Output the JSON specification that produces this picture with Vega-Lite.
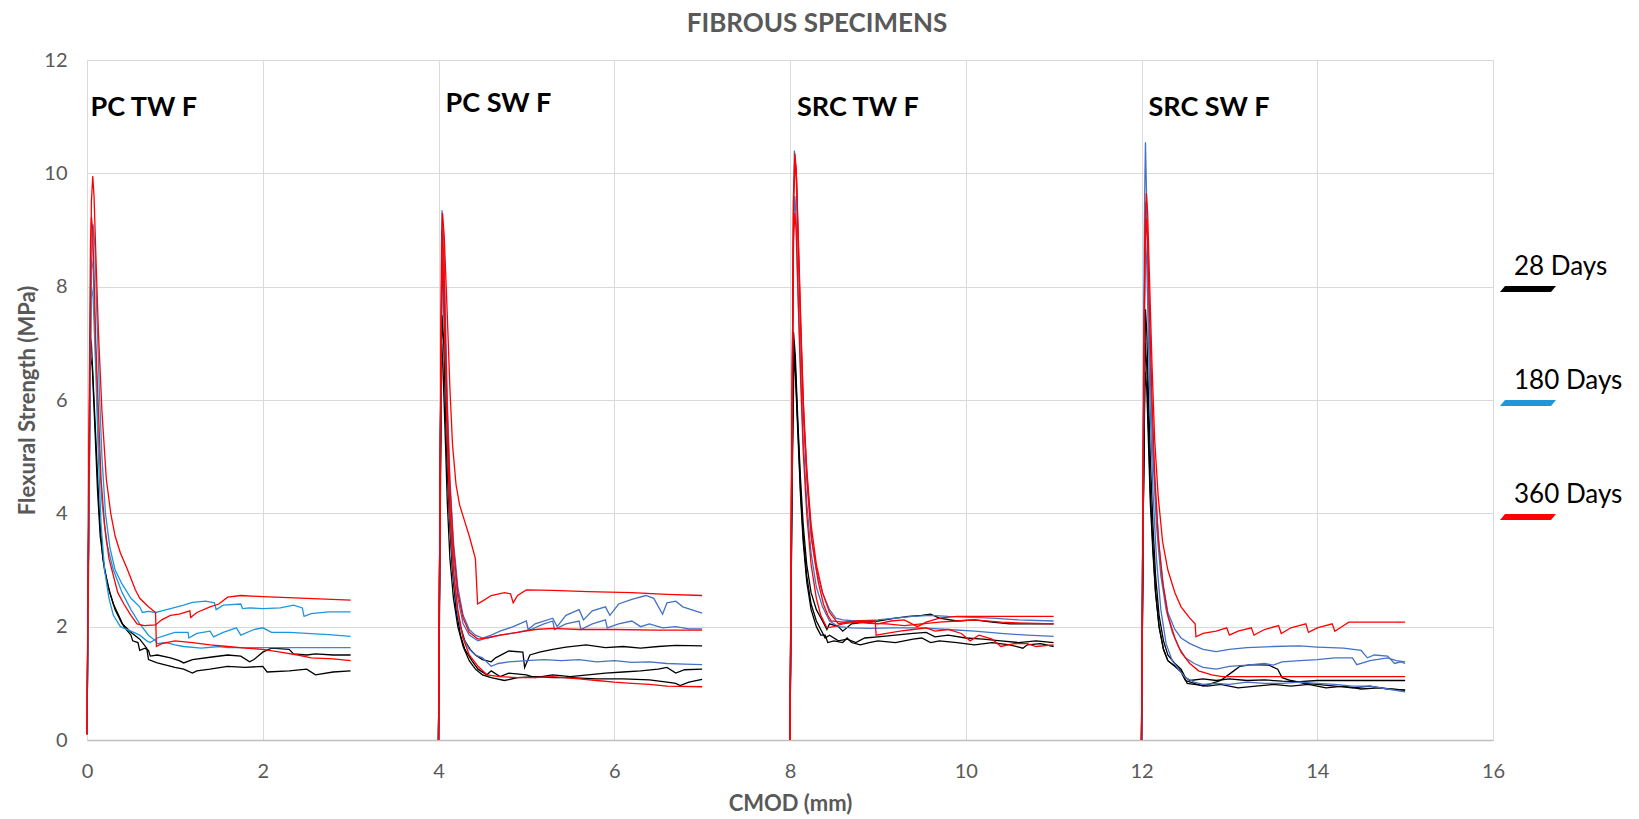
{
  "$schema": "https://vega.github.io/schema/vega-lite/v6.json",
  "autosize": {"type": "none"},
  "width": 1406,
  "height": 680,
  "padding": {"left": 87, "top": 60, "right": 146, "bottom": 79},
  "background": "white",
  "config": {"view": {"stroke": null}, "font": "Lato"},
  "title": {"text": "FIBROUS SPECIMENS", "font": "Lato", "fontSize": 26, "fontWeight": "bold", "color": "#595959", "anchor": "middle", "frame": "group", "dx": 27, "dy": 37, "offset": 29, "baseline": "alphabetic"},
  "datasets": {
    "labels": [
      {"label": "PC TW F", "x": 0.04, "y": 11.15},
      {"label": "PC SW F", "x": 4.08, "y": 11.23},
      {"label": "SRC TW F", "x": 8.08, "y": 11.15},
      {"label": "SRC SW F", "x": 12.08, "y": 11.15}
    ],
    "curves": [
      {"c":"1K1","g":"28 Days","x":0,"y":0.1},{"c":"1K1","g":"28 Days","x":0.02,"y":4},{"c":"1K1","g":"28 Days","x":0.035,"y":7.15},{"c":"1K1","g":"28 Days","x":0.05,"y":7.0},{"c":"1K1","g":"28 Days","x":0.08,"y":6.0},{"c":"1K1","g":"28 Days","x":0.11,"y":5.0},{"c":"1K1","g":"28 Days","x":0.14,"y":4.0},{"c":"1K1","g":"28 Days","x":0.18,"y":3.2},{"c":"1K1","g":"28 Days","x":0.24,"y":2.7},{"c":"1K1","g":"28 Days","x":0.3,"y":2.4},{"c":"1K1","g":"28 Days","x":0.36,"y":2.2},{"c":"1K1","g":"28 Days","x":0.42,"y":2.0},{"c":"1K1","g":"28 Days","x":0.5,"y":1.85},{"c":"1K1","g":"28 Days","x":0.52,"y":1.75},{"c":"1K1","g":"28 Days","x":0.58,"y":1.72},{"c":"1K1","g":"28 Days","x":0.6,"y":1.58},{"c":"1K1","g":"28 Days","x":0.66,"y":1.62},{"c":"1K1","g":"28 Days","x":0.7,"y":1.58},{"c":"1K1","g":"28 Days","x":0.72,"y":1.48},{"c":"1K1","g":"28 Days","x":0.8,"y":1.5},{"c":"1K1","g":"28 Days","x":0.95,"y":1.45},{"c":"1K1","g":"28 Days","x":1.05,"y":1.4},{"c":"1K1","g":"28 Days","x":1.1,"y":1.36},{"c":"1K1","g":"28 Days","x":1.2,"y":1.42},{"c":"1K1","g":"28 Days","x":1.4,"y":1.46},{"c":"1K1","g":"28 Days","x":1.6,"y":1.5},{"c":"1K1","g":"28 Days","x":1.75,"y":1.48},{"c":"1K1","g":"28 Days","x":1.85,"y":1.38},{"c":"1K1","g":"28 Days","x":1.9,"y":1.42},{"c":"1K1","g":"28 Days","x":2.0,"y":1.55},{"c":"1K1","g":"28 Days","x":2.1,"y":1.62},{"c":"1K1","g":"28 Days","x":2.3,"y":1.6},{"c":"1K1","g":"28 Days","x":2.35,"y":1.52},{"c":"1K1","g":"28 Days","x":2.5,"y":1.5},{"c":"1K1","g":"28 Days","x":2.6,"y":1.52},{"c":"1K1","g":"28 Days","x":2.8,"y":1.5},{"c":"1K1","g":"28 Days","x":3.0,"y":1.5},
      {"c":"1K2","g":"28 Days","x":0,"y":0.1},{"c":"1K2","g":"28 Days","x":0.02,"y":4},{"c":"1K2","g":"28 Days","x":0.04,"y":6.75},{"c":"1K2","g":"28 Days","x":0.06,"y":6.6},{"c":"1K2","g":"28 Days","x":0.09,"y":5.5},{"c":"1K2","g":"28 Days","x":0.12,"y":4.4},{"c":"1K2","g":"28 Days","x":0.15,"y":3.6},{"c":"1K2","g":"28 Days","x":0.2,"y":3.0},{"c":"1K2","g":"28 Days","x":0.26,"y":2.6},{"c":"1K2","g":"28 Days","x":0.32,"y":2.3},{"c":"1K2","g":"28 Days","x":0.4,"y":2.05},{"c":"1K2","g":"28 Days","x":0.5,"y":1.9},{"c":"1K2","g":"28 Days","x":0.6,"y":1.78},{"c":"1K2","g":"28 Days","x":0.68,"y":1.62},{"c":"1K2","g":"28 Days","x":0.7,"y":1.42},{"c":"1K2","g":"28 Days","x":0.8,"y":1.36},{"c":"1K2","g":"28 Days","x":0.9,"y":1.32},{"c":"1K2","g":"28 Days","x":1.0,"y":1.28},{"c":"1K2","g":"28 Days","x":1.1,"y":1.25},{"c":"1K2","g":"28 Days","x":1.2,"y":1.18},{"c":"1K2","g":"28 Days","x":1.25,"y":1.22},{"c":"1K2","g":"28 Days","x":1.4,"y":1.25},{"c":"1K2","g":"28 Days","x":1.6,"y":1.3},{"c":"1K2","g":"28 Days","x":1.8,"y":1.28},{"c":"1K2","g":"28 Days","x":2.0,"y":1.3},{"c":"1K2","g":"28 Days","x":2.05,"y":1.2},{"c":"1K2","g":"28 Days","x":2.3,"y":1.22},{"c":"1K2","g":"28 Days","x":2.5,"y":1.25},{"c":"1K2","g":"28 Days","x":2.6,"y":1.15},{"c":"1K2","g":"28 Days","x":2.8,"y":1.2},{"c":"1K2","g":"28 Days","x":3.0,"y":1.22},
      {"c":"2K1","g":"28 Days","x":4.0,"y":0},{"c":"2K1","g":"28 Days","x":4.02,"y":4},{"c":"2K1","g":"28 Days","x":4.04,"y":7.5},{"c":"2K1","g":"28 Days","x":4.06,"y":7.0},{"c":"2K1","g":"28 Days","x":4.08,"y":5.8},{"c":"2K1","g":"28 Days","x":4.1,"y":4.8},{"c":"2K1","g":"28 Days","x":4.13,"y":3.8},{"c":"2K1","g":"28 Days","x":4.16,"y":3.0},{"c":"2K1","g":"28 Days","x":4.2,"y":2.4},{"c":"2K1","g":"28 Days","x":4.25,"y":2.0},{"c":"2K1","g":"28 Days","x":4.3,"y":1.75},{"c":"2K1","g":"28 Days","x":4.36,"y":1.6},{"c":"2K1","g":"28 Days","x":4.42,"y":1.5},{"c":"2K1","g":"28 Days","x":4.5,"y":1.42},{"c":"2K1","g":"28 Days","x":4.6,"y":1.38},{"c":"2K1","g":"28 Days","x":4.65,"y":1.45},{"c":"2K1","g":"28 Days","x":4.8,"y":1.57},{"c":"2K1","g":"28 Days","x":4.96,"y":1.55},{"c":"2K1","g":"28 Days","x":4.98,"y":1.28},{"c":"2K1","g":"28 Days","x":5.04,"y":1.5},{"c":"2K1","g":"28 Days","x":5.15,"y":1.55},{"c":"2K1","g":"28 Days","x":5.3,"y":1.6},{"c":"2K1","g":"28 Days","x":5.45,"y":1.64},{"c":"2K1","g":"28 Days","x":5.68,"y":1.68},{"c":"2K1","g":"28 Days","x":5.9,"y":1.63},{"c":"2K1","g":"28 Days","x":6.1,"y":1.65},{"c":"2K1","g":"28 Days","x":6.3,"y":1.62},{"c":"2K1","g":"28 Days","x":6.5,"y":1.65},{"c":"2K1","g":"28 Days","x":6.7,"y":1.67},{"c":"2K1","g":"28 Days","x":7.0,"y":1.66},
      {"c":"2K2","g":"28 Days","x":4.0,"y":0},{"c":"2K2","g":"28 Days","x":4.02,"y":5},{"c":"2K2","g":"28 Days","x":4.04,"y":8.4},{"c":"2K2","g":"28 Days","x":4.06,"y":7.8},{"c":"2K2","g":"28 Days","x":4.08,"y":6.3},{"c":"2K2","g":"28 Days","x":4.1,"y":5.0},{"c":"2K2","g":"28 Days","x":4.13,"y":3.8},{"c":"2K2","g":"28 Days","x":4.16,"y":3.0},{"c":"2K2","g":"28 Days","x":4.2,"y":2.3},{"c":"2K2","g":"28 Days","x":4.25,"y":1.85},{"c":"2K2","g":"28 Days","x":4.3,"y":1.6},{"c":"2K2","g":"28 Days","x":4.38,"y":1.4},{"c":"2K2","g":"28 Days","x":4.45,"y":1.25},{"c":"2K2","g":"28 Days","x":4.55,"y":1.15},{"c":"2K2","g":"28 Days","x":4.6,"y":1.22},{"c":"2K2","g":"28 Days","x":4.7,"y":1.12},{"c":"2K2","g":"28 Days","x":4.8,"y":1.18},{"c":"2K2","g":"28 Days","x":5.0,"y":1.15},{"c":"2K2","g":"28 Days","x":5.1,"y":1.1},{"c":"2K2","g":"28 Days","x":5.3,"y":1.15},{"c":"2K2","g":"28 Days","x":5.5,"y":1.12},{"c":"2K2","g":"28 Days","x":5.7,"y":1.15},{"c":"2K2","g":"28 Days","x":5.9,"y":1.18},{"c":"2K2","g":"28 Days","x":6.1,"y":1.2},{"c":"2K2","g":"28 Days","x":6.3,"y":1.22},{"c":"2K2","g":"28 Days","x":6.5,"y":1.25},{"c":"2K2","g":"28 Days","x":6.6,"y":1.28},{"c":"2K2","g":"28 Days","x":6.7,"y":1.18},{"c":"2K2","g":"28 Days","x":6.8,"y":1.24},{"c":"2K2","g":"28 Days","x":7.0,"y":1.25},
      {"c":"2K3","g":"28 Days","x":4.0,"y":0},{"c":"2K3","g":"28 Days","x":4.02,"y":4.5},{"c":"2K3","g":"28 Days","x":4.035,"y":7.0},{"c":"2K3","g":"28 Days","x":4.05,"y":6.6},{"c":"2K3","g":"28 Days","x":4.08,"y":5.2},{"c":"2K3","g":"28 Days","x":4.1,"y":4.2},{"c":"2K3","g":"28 Days","x":4.13,"y":3.2},{"c":"2K3","g":"28 Days","x":4.17,"y":2.5},{"c":"2K3","g":"28 Days","x":4.22,"y":2.0},{"c":"2K3","g":"28 Days","x":4.28,"y":1.65},{"c":"2K3","g":"28 Days","x":4.35,"y":1.4},{"c":"2K3","g":"28 Days","x":4.42,"y":1.25},{"c":"2K3","g":"28 Days","x":4.5,"y":1.15},{"c":"2K3","g":"28 Days","x":4.6,"y":1.1},{"c":"2K3","g":"28 Days","x":4.75,"y":1.05},{"c":"2K3","g":"28 Days","x":4.9,"y":1.1},{"c":"2K3","g":"28 Days","x":5.1,"y":1.12},{"c":"2K3","g":"28 Days","x":5.3,"y":1.1},{"c":"2K3","g":"28 Days","x":5.5,"y":1.1},{"c":"2K3","g":"28 Days","x":5.8,"y":1.08},{"c":"2K3","g":"28 Days","x":6.1,"y":1.08},{"c":"2K3","g":"28 Days","x":6.4,"y":1.06},{"c":"2K3","g":"28 Days","x":6.6,"y":1.02},{"c":"2K3","g":"28 Days","x":6.7,"y":1.0},{"c":"2K3","g":"28 Days","x":6.75,"y":0.96},{"c":"2K3","g":"28 Days","x":6.85,"y":1.02},{"c":"2K3","g":"28 Days","x":7.0,"y":1.07},
      {"c":"3K1","g":"28 Days","x":8.0,"y":0},{"c":"3K1","g":"28 Days","x":8.02,"y":4},{"c":"3K1","g":"28 Days","x":8.04,"y":7.2},{"c":"3K1","g":"28 Days","x":8.06,"y":6.8},{"c":"3K1","g":"28 Days","x":8.09,"y":5.6},{"c":"3K1","g":"28 Days","x":8.12,"y":4.6},{"c":"3K1","g":"28 Days","x":8.15,"y":3.8},{"c":"3K1","g":"28 Days","x":8.19,"y":3.1},{"c":"3K1","g":"28 Days","x":8.24,"y":2.6},{"c":"3K1","g":"28 Days","x":8.3,"y":2.3},{"c":"3K1","g":"28 Days","x":8.37,"y":2.1},{"c":"3K1","g":"28 Days","x":8.42,"y":1.95},{"c":"3K1","g":"28 Days","x":8.45,"y":2.05},{"c":"3K1","g":"28 Days","x":8.55,"y":2.0},{"c":"3K1","g":"28 Days","x":8.6,"y":1.92},{"c":"3K1","g":"28 Days","x":8.7,"y":2.05},{"c":"3K1","g":"28 Days","x":8.85,"y":2.08},{"c":"3K1","g":"28 Days","x":9.0,"y":2.1},{"c":"3K1","g":"28 Days","x":9.2,"y":2.15},{"c":"3K1","g":"28 Days","x":9.35,"y":2.18},{"c":"3K1","g":"28 Days","x":9.5,"y":2.2},{"c":"3K1","g":"28 Days","x":9.6,"y":2.22},{"c":"3K1","g":"28 Days","x":9.7,"y":2.15},{"c":"3K1","g":"28 Days","x":9.9,"y":2.1},{"c":"3K1","g":"28 Days","x":10.1,"y":2.12},{"c":"3K1","g":"28 Days","x":10.3,"y":2.08},{"c":"3K1","g":"28 Days","x":10.5,"y":2.05},{"c":"3K1","g":"28 Days","x":10.7,"y":2.05},{"c":"3K1","g":"28 Days","x":11.0,"y":2.05},
      {"c":"3K2","g":"28 Days","x":8.0,"y":0},{"c":"3K2","g":"28 Days","x":8.02,"y":4},{"c":"3K2","g":"28 Days","x":8.045,"y":6.75},{"c":"3K2","g":"28 Days","x":8.06,"y":6.5},{"c":"3K2","g":"28 Days","x":8.09,"y":5.4},{"c":"3K2","g":"28 Days","x":8.12,"y":4.3},{"c":"3K2","g":"28 Days","x":8.15,"y":3.5},{"c":"3K2","g":"28 Days","x":8.19,"y":2.8},{"c":"3K2","g":"28 Days","x":8.24,"y":2.3},{"c":"3K2","g":"28 Days","x":8.3,"y":2.0},{"c":"3K2","g":"28 Days","x":8.35,"y":1.85},{"c":"3K2","g":"28 Days","x":8.4,"y":1.85},{"c":"3K2","g":"28 Days","x":8.43,"y":1.72},{"c":"3K2","g":"28 Days","x":8.5,"y":1.75},{"c":"3K2","g":"28 Days","x":8.6,"y":1.72},{"c":"3K2","g":"28 Days","x":8.65,"y":1.8},{"c":"3K2","g":"28 Days","x":8.7,"y":1.72},{"c":"3K2","g":"28 Days","x":8.8,"y":1.68},{"c":"3K2","g":"28 Days","x":8.9,"y":1.72},{"c":"3K2","g":"28 Days","x":9.0,"y":1.75},{"c":"3K2","g":"28 Days","x":9.2,"y":1.72},{"c":"3K2","g":"28 Days","x":9.3,"y":1.75},{"c":"3K2","g":"28 Days","x":9.4,"y":1.78},{"c":"3K2","g":"28 Days","x":9.5,"y":1.8},{"c":"3K2","g":"28 Days","x":9.6,"y":1.72},{"c":"3K2","g":"28 Days","x":9.7,"y":1.75},{"c":"3K2","g":"28 Days","x":9.9,"y":1.72},{"c":"3K2","g":"28 Days","x":10.1,"y":1.68},{"c":"3K2","g":"28 Days","x":10.3,"y":1.72},{"c":"3K2","g":"28 Days","x":10.5,"y":1.68},{"c":"3K2","g":"28 Days","x":10.65,"y":1.62},{"c":"3K2","g":"28 Days","x":10.7,"y":1.68},{"c":"3K2","g":"28 Days","x":10.85,"y":1.7},{"c":"3K2","g":"28 Days","x":11.0,"y":1.65},
      {"c":"3K3","g":"28 Days","x":8.0,"y":0},{"c":"3K3","g":"28 Days","x":8.02,"y":4.2},{"c":"3K3","g":"28 Days","x":8.04,"y":7.0},{"c":"3K3","g":"28 Days","x":8.06,"y":6.6},{"c":"3K3","g":"28 Days","x":8.09,"y":5.5},{"c":"3K3","g":"28 Days","x":8.12,"y":4.4},{"c":"3K3","g":"28 Days","x":8.15,"y":3.6},{"c":"3K3","g":"28 Days","x":8.19,"y":2.9},{"c":"3K3","g":"28 Days","x":8.24,"y":2.4},{"c":"3K3","g":"28 Days","x":8.3,"y":2.1},{"c":"3K3","g":"28 Days","x":8.35,"y":1.95},{"c":"3K3","g":"28 Days","x":8.4,"y":1.8},{"c":"3K3","g":"28 Days","x":8.45,"y":1.85},{"c":"3K3","g":"28 Days","x":8.55,"y":1.75},{"c":"3K3","g":"28 Days","x":8.65,"y":1.78},{"c":"3K3","g":"28 Days","x":8.75,"y":1.72},{"c":"3K3","g":"28 Days","x":8.85,"y":1.8},{"c":"3K3","g":"28 Days","x":9.0,"y":1.82},{"c":"3K3","g":"28 Days","x":9.2,"y":1.85},{"c":"3K3","g":"28 Days","x":9.4,"y":1.88},{"c":"3K3","g":"28 Days","x":9.55,"y":1.9},{"c":"3K3","g":"28 Days","x":9.65,"y":1.82},{"c":"3K3","g":"28 Days","x":9.8,"y":1.85},{"c":"3K3","g":"28 Days","x":10.0,"y":1.8},{"c":"3K3","g":"28 Days","x":10.2,"y":1.78},{"c":"3K3","g":"28 Days","x":10.4,"y":1.75},{"c":"3K3","g":"28 Days","x":10.6,"y":1.72},{"c":"3K3","g":"28 Days","x":10.8,"y":1.75},{"c":"3K3","g":"28 Days","x":11.0,"y":1.72},
      {"c":"4K1","g":"28 Days","x":12.0,"y":0},{"c":"4K1","g":"28 Days","x":12.02,"y":4},{"c":"4K1","g":"28 Days","x":12.045,"y":7.6},{"c":"4K1","g":"28 Days","x":12.06,"y":7.2},{"c":"4K1","g":"28 Days","x":12.08,"y":6.0},{"c":"4K1","g":"28 Days","x":12.1,"y":5.0},{"c":"4K1","g":"28 Days","x":12.13,"y":3.8},{"c":"4K1","g":"28 Days","x":12.16,"y":2.9},{"c":"4K1","g":"28 Days","x":12.2,"y":2.2},{"c":"4K1","g":"28 Days","x":12.25,"y":1.75},{"c":"4K1","g":"28 Days","x":12.3,"y":1.5},{"c":"4K1","g":"28 Days","x":12.38,"y":1.35},{"c":"4K1","g":"28 Days","x":12.45,"y":1.25},{"c":"4K1","g":"28 Days","x":12.5,"y":1.1},{"c":"4K1","g":"28 Days","x":12.55,"y":1.05},{"c":"4K1","g":"28 Days","x":12.7,"y":1.08},{"c":"4K1","g":"28 Days","x":12.85,"y":1.05},{"c":"4K1","g":"28 Days","x":13.0,"y":1.08},{"c":"4K1","g":"28 Days","x":13.2,"y":1.05},{"c":"4K1","g":"28 Days","x":13.4,"y":1.06},{"c":"4K1","g":"28 Days","x":13.6,"y":1.04},{"c":"4K1","g":"28 Days","x":13.8,"y":1.03},{"c":"4K1","g":"28 Days","x":14.0,"y":1.05},{"c":"4K1","g":"28 Days","x":14.3,"y":1.05},{"c":"4K1","g":"28 Days","x":14.6,"y":1.05},{"c":"4K1","g":"28 Days","x":15.0,"y":1.05},
      {"c":"4K2","g":"28 Days","x":12.0,"y":0},{"c":"4K2","g":"28 Days","x":12.02,"y":4},{"c":"4K2","g":"28 Days","x":12.04,"y":7.0},{"c":"4K2","g":"28 Days","x":12.06,"y":6.6},{"c":"4K2","g":"28 Days","x":12.08,"y":5.5},{"c":"4K2","g":"28 Days","x":12.1,"y":4.4},{"c":"4K2","g":"28 Days","x":12.13,"y":3.4},{"c":"4K2","g":"28 Days","x":12.16,"y":2.6},{"c":"4K2","g":"28 Days","x":12.2,"y":2.0},{"c":"4K2","g":"28 Days","x":12.25,"y":1.6},{"c":"4K2","g":"28 Days","x":12.3,"y":1.4},{"c":"4K2","g":"28 Days","x":12.38,"y":1.3},{"c":"4K2","g":"28 Days","x":12.45,"y":1.2},{"c":"4K2","g":"28 Days","x":12.5,"y":1.05},{"c":"4K2","g":"28 Days","x":12.6,"y":1.0},{"c":"4K2","g":"28 Days","x":12.7,"y":0.95},{"c":"4K2","g":"28 Days","x":12.8,"y":1.0},{"c":"4K2","g":"28 Days","x":12.9,"y":1.05},{"c":"4K2","g":"28 Days","x":13.05,"y":1.22},{"c":"4K2","g":"28 Days","x":13.12,"y":1.3},{"c":"4K2","g":"28 Days","x":13.25,"y":1.33},{"c":"4K2","g":"28 Days","x":13.45,"y":1.32},{"c":"4K2","g":"28 Days","x":13.55,"y":1.25},{"c":"4K2","g":"28 Days","x":13.6,"y":1.1},{"c":"4K2","g":"28 Days","x":13.7,"y":1.05},{"c":"4K2","g":"28 Days","x":13.85,"y":1.0},{"c":"4K2","g":"28 Days","x":14.0,"y":0.98},{"c":"4K2","g":"28 Days","x":14.2,"y":0.95},{"c":"4K2","g":"28 Days","x":14.4,"y":0.92},{"c":"4K2","g":"28 Days","x":14.6,"y":0.95},{"c":"4K2","g":"28 Days","x":14.8,"y":0.9},{"c":"4K2","g":"28 Days","x":15.0,"y":0.88},
      {"c":"4K3","g":"28 Days","x":12.0,"y":0},{"c":"4K3","g":"28 Days","x":12.02,"y":4},{"c":"4K3","g":"28 Days","x":12.04,"y":6.5},{"c":"4K3","g":"28 Days","x":12.06,"y":6.2},{"c":"4K3","g":"28 Days","x":12.08,"y":5.2},{"c":"4K3","g":"28 Days","x":12.1,"y":4.2},{"c":"4K3","g":"28 Days","x":12.13,"y":3.3},{"c":"4K3","g":"28 Days","x":12.16,"y":2.6},{"c":"4K3","g":"28 Days","x":12.2,"y":2.0},{"c":"4K3","g":"28 Days","x":12.25,"y":1.6},{"c":"4K3","g":"28 Days","x":12.3,"y":1.4},{"c":"4K3","g":"28 Days","x":12.38,"y":1.3},{"c":"4K3","g":"28 Days","x":12.45,"y":1.22},{"c":"4K3","g":"28 Days","x":12.52,"y":1.0},{"c":"4K3","g":"28 Days","x":12.6,"y":0.98},{"c":"4K3","g":"28 Days","x":12.75,"y":0.95},{"c":"4K3","g":"28 Days","x":12.9,"y":0.98},{"c":"4K3","g":"28 Days","x":13.1,"y":0.92},{"c":"4K3","g":"28 Days","x":13.3,"y":0.95},{"c":"4K3","g":"28 Days","x":13.5,"y":0.98},{"c":"4K3","g":"28 Days","x":13.7,"y":0.95},{"c":"4K3","g":"28 Days","x":13.9,"y":0.98},{"c":"4K3","g":"28 Days","x":14.1,"y":0.92},{"c":"4K3","g":"28 Days","x":14.3,"y":0.95},{"c":"4K3","g":"28 Days","x":14.5,"y":0.9},{"c":"4K3","g":"28 Days","x":14.7,"y":0.92},{"c":"4K3","g":"28 Days","x":15.0,"y":0.88},
      {"c":"1B1","g":"180 Days","x":0,"y":0.1},{"c":"1B1","g":"180 Days","x":0.03,"y":5},{"c":"1B1","g":"180 Days","x":0.05,"y":8.3},{"c":"1B1","g":"180 Days","x":0.07,"y":9.1},{"c":"1B1","g":"180 Days","x":0.09,"y":8.7},{"c":"1B1","g":"180 Days","x":0.11,"y":7.6},{"c":"1B1","g":"180 Days","x":0.14,"y":6.2},{"c":"1B1","g":"180 Days","x":0.17,"y":5.0},{"c":"1B1","g":"180 Days","x":0.21,"y":4.0},{"c":"1B1","g":"180 Days","x":0.26,"y":3.4},{"c":"1B1","g":"180 Days","x":0.32,"y":3.0},{"c":"1B1","g":"180 Days","x":0.4,"y":2.75},{"c":"1B1","g":"180 Days","x":0.5,"y":2.5},{"c":"1B1","g":"180 Days","x":0.6,"y":2.35},{"c":"1B1","g":"180 Days","x":0.63,"y":2.25},{"c":"1B1","g":"180 Days","x":0.7,"y":2.27},{"c":"1B1","g":"180 Days","x":0.78,"y":2.25},{"c":"1B1","g":"180 Days","x":0.85,"y":2.28},{"c":"1B1","g":"180 Days","x":0.95,"y":2.32},{"c":"1B1","g":"180 Days","x":1.1,"y":2.38},{"c":"1B1","g":"180 Days","x":1.2,"y":2.43},{"c":"1B1","g":"180 Days","x":1.35,"y":2.45},{"c":"1B1","g":"180 Days","x":1.45,"y":2.42},{"c":"1B1","g":"180 Days","x":1.47,"y":2.3},{"c":"1B1","g":"180 Days","x":1.55,"y":2.38},{"c":"1B1","g":"180 Days","x":1.75,"y":2.4},{"c":"1B1","g":"180 Days","x":1.77,"y":2.32},{"c":"1B1","g":"180 Days","x":1.85,"y":2.33},{"c":"1B1","g":"180 Days","x":2.0,"y":2.32},{"c":"1B1","g":"180 Days","x":2.2,"y":2.33},{"c":"1B1","g":"180 Days","x":2.35,"y":2.38},{"c":"1B1","g":"180 Days","x":2.45,"y":2.33},{"c":"1B1","g":"180 Days","x":2.47,"y":2.18},{"c":"1B1","g":"180 Days","x":2.55,"y":2.23},{"c":"1B1","g":"180 Days","x":2.75,"y":2.26},{"c":"1B1","g":"180 Days","x":3.0,"y":2.26},
      {"c":"1B2","g":"180 Days","x":0,"y":0.1},{"c":"1B2","g":"180 Days","x":0.03,"y":5.5},{"c":"1B2","g":"180 Days","x":0.05,"y":8.0},{"c":"1B2","g":"180 Days","x":0.07,"y":7.8},{"c":"1B2","g":"180 Days","x":0.1,"y":6.5},{"c":"1B2","g":"180 Days","x":0.13,"y":5.0},{"c":"1B2","g":"180 Days","x":0.16,"y":3.8},{"c":"1B2","g":"180 Days","x":0.2,"y":3.0},{"c":"1B2","g":"180 Days","x":0.25,"y":2.5},{"c":"1B2","g":"180 Days","x":0.3,"y":2.2},{"c":"1B2","g":"180 Days","x":0.38,"y":2.0},{"c":"1B2","g":"180 Days","x":0.5,"y":1.92},{"c":"1B2","g":"180 Days","x":0.6,"y":1.85},{"c":"1B2","g":"180 Days","x":0.68,"y":1.75},{"c":"1B2","g":"180 Days","x":0.72,"y":1.72},{"c":"1B2","g":"180 Days","x":0.8,"y":1.8},{"c":"1B2","g":"180 Days","x":0.9,"y":1.85},{"c":"1B2","g":"180 Days","x":1.0,"y":1.9},{"c":"1B2","g":"180 Days","x":1.15,"y":1.9},{"c":"1B2","g":"180 Days","x":1.16,"y":1.8},{"c":"1B2","g":"180 Days","x":1.25,"y":1.88},{"c":"1B2","g":"180 Days","x":1.4,"y":1.92},{"c":"1B2","g":"180 Days","x":1.44,"y":1.82},{"c":"1B2","g":"180 Days","x":1.55,"y":1.9},{"c":"1B2","g":"180 Days","x":1.7,"y":1.98},{"c":"1B2","g":"180 Days","x":1.75,"y":1.85},{"c":"1B2","g":"180 Days","x":1.9,"y":1.95},{"c":"1B2","g":"180 Days","x":2.0,"y":1.98},{"c":"1B2","g":"180 Days","x":2.1,"y":1.9},{"c":"1B2","g":"180 Days","x":2.3,"y":1.9},{"c":"1B2","g":"180 Days","x":2.5,"y":1.88},{"c":"1B2","g":"180 Days","x":2.75,"y":1.86},{"c":"1B2","g":"180 Days","x":3.0,"y":1.83},
      {"c":"1B3","g":"180 Days","x":0,"y":0.1},{"c":"1B3","g":"180 Days","x":0.03,"y":6},{"c":"1B3","g":"180 Days","x":0.05,"y":8.5},{"c":"1B3","g":"180 Days","x":0.07,"y":8.3},{"c":"1B3","g":"180 Days","x":0.1,"y":6.8},{"c":"1B3","g":"180 Days","x":0.13,"y":5.3},{"c":"1B3","g":"180 Days","x":0.17,"y":4.2},{"c":"1B3","g":"180 Days","x":0.22,"y":3.5},{"c":"1B3","g":"180 Days","x":0.3,"y":3.0},{"c":"1B3","g":"180 Days","x":0.4,"y":2.6},{"c":"1B3","g":"180 Days","x":0.5,"y":2.3},{"c":"1B3","g":"180 Days","x":0.6,"y":2.05},{"c":"1B3","g":"180 Days","x":0.7,"y":1.85},{"c":"1B3","g":"180 Days","x":0.78,"y":1.75},{"c":"1B3","g":"180 Days","x":0.8,"y":1.7},{"c":"1B3","g":"180 Days","x":0.9,"y":1.72},{"c":"1B3","g":"180 Days","x":1.0,"y":1.68},{"c":"1B3","g":"180 Days","x":1.1,"y":1.65},{"c":"1B3","g":"180 Days","x":1.3,"y":1.62},{"c":"1B3","g":"180 Days","x":1.5,"y":1.65},{"c":"1B3","g":"180 Days","x":1.6,"y":1.63},{"c":"1B3","g":"180 Days","x":2.0,"y":1.63},{"c":"1B3","g":"180 Days","x":2.5,"y":1.63},{"c":"1B3","g":"180 Days","x":3.0,"y":1.63},
      {"c":"2B1","g":"180 Days (b)","x":4.0,"y":0},{"c":"2B1","g":"180 Days (b)","x":4.02,"y":5},{"c":"2B1","g":"180 Days (b)","x":4.035,"y":8.5},{"c":"2B1","g":"180 Days (b)","x":4.04,"y":9.35},{"c":"2B1","g":"180 Days (b)","x":4.06,"y":8.8},{"c":"2B1","g":"180 Days (b)","x":4.08,"y":7.4},{"c":"2B1","g":"180 Days (b)","x":4.1,"y":6.0},{"c":"2B1","g":"180 Days (b)","x":4.13,"y":4.6},{"c":"2B1","g":"180 Days (b)","x":4.17,"y":3.5},{"c":"2B1","g":"180 Days (b)","x":4.22,"y":2.7},{"c":"2B1","g":"180 Days (b)","x":4.28,"y":2.2},{"c":"2B1","g":"180 Days (b)","x":4.35,"y":1.95},{"c":"2B1","g":"180 Days (b)","x":4.42,"y":1.85},{"c":"2B1","g":"180 Days (b)","x":4.5,"y":1.8},{"c":"2B1","g":"180 Days (b)","x":4.6,"y":1.85},{"c":"2B1","g":"180 Days (b)","x":4.7,"y":1.92},{"c":"2B1","g":"180 Days (b)","x":4.85,"y":2.0},{"c":"2B1","g":"180 Days (b)","x":5.0,"y":2.1},{"c":"2B1","g":"180 Days (b)","x":5.02,"y":1.95},{"c":"2B1","g":"180 Days (b)","x":5.1,"y":2.05},{"c":"2B1","g":"180 Days (b)","x":5.3,"y":2.15},{"c":"2B1","g":"180 Days (b)","x":5.35,"y":2.0},{"c":"2B1","g":"180 Days (b)","x":5.45,"y":2.2},{"c":"2B1","g":"180 Days (b)","x":5.6,"y":2.3},{"c":"2B1","g":"180 Days (b)","x":5.65,"y":2.12},{"c":"2B1","g":"180 Days (b)","x":5.75,"y":2.28},{"c":"2B1","g":"180 Days (b)","x":5.9,"y":2.35},{"c":"2B1","g":"180 Days (b)","x":5.95,"y":2.2},{"c":"2B1","g":"180 Days (b)","x":6.05,"y":2.4},{"c":"2B1","g":"180 Days (b)","x":6.2,"y":2.48},{"c":"2B1","g":"180 Days (b)","x":6.36,"y":2.55},{"c":"2B1","g":"180 Days (b)","x":6.45,"y":2.5},{"c":"2B1","g":"180 Days (b)","x":6.55,"y":2.22},{"c":"2B1","g":"180 Days (b)","x":6.6,"y":2.42},{"c":"2B1","g":"180 Days (b)","x":6.7,"y":2.45},{"c":"2B1","g":"180 Days (b)","x":6.78,"y":2.35},{"c":"2B1","g":"180 Days (b)","x":7.0,"y":2.24},
      {"c":"2B2","g":"180 Days (b)","x":4.0,"y":0},{"c":"2B2","g":"180 Days (b)","x":4.02,"y":5},{"c":"2B2","g":"180 Days (b)","x":4.04,"y":8.8},{"c":"2B2","g":"180 Days (b)","x":4.06,"y":8.2},{"c":"2B2","g":"180 Days (b)","x":4.08,"y":6.8},{"c":"2B2","g":"180 Days (b)","x":4.1,"y":5.5},{"c":"2B2","g":"180 Days (b)","x":4.13,"y":4.2},{"c":"2B2","g":"180 Days (b)","x":4.17,"y":3.2},{"c":"2B2","g":"180 Days (b)","x":4.22,"y":2.5},{"c":"2B2","g":"180 Days (b)","x":4.28,"y":2.05},{"c":"2B2","g":"180 Days (b)","x":4.35,"y":1.85},{"c":"2B2","g":"180 Days (b)","x":4.45,"y":1.75},{"c":"2B2","g":"180 Days (b)","x":4.55,"y":1.8},{"c":"2B2","g":"180 Days (b)","x":4.7,"y":1.85},{"c":"2B2","g":"180 Days (b)","x":4.9,"y":1.9},{"c":"2B2","g":"180 Days (b)","x":5.05,"y":1.95},{"c":"2B2","g":"180 Days (b)","x":5.2,"y":2.05},{"c":"2B2","g":"180 Days (b)","x":5.3,"y":2.1},{"c":"2B2","g":"180 Days (b)","x":5.32,"y":1.95},{"c":"2B2","g":"180 Days (b)","x":5.45,"y":2.05},{"c":"2B2","g":"180 Days (b)","x":5.6,"y":2.1},{"c":"2B2","g":"180 Days (b)","x":5.62,"y":1.95},{"c":"2B2","g":"180 Days (b)","x":5.75,"y":2.05},{"c":"2B2","g":"180 Days (b)","x":5.9,"y":2.12},{"c":"2B2","g":"180 Days (b)","x":5.92,"y":1.98},{"c":"2B2","g":"180 Days (b)","x":6.05,"y":2.05},{"c":"2B2","g":"180 Days (b)","x":6.2,"y":2.1},{"c":"2B2","g":"180 Days (b)","x":6.3,"y":2.0},{"c":"2B2","g":"180 Days (b)","x":6.4,"y":2.05},{"c":"2B2","g":"180 Days (b)","x":6.55,"y":1.98},{"c":"2B2","g":"180 Days (b)","x":6.7,"y":2.0},{"c":"2B2","g":"180 Days (b)","x":6.85,"y":1.96},{"c":"2B2","g":"180 Days (b)","x":7.0,"y":1.96},
      {"c":"2B3","g":"180 Days (b)","x":4.0,"y":0},{"c":"2B3","g":"180 Days (b)","x":4.02,"y":5},{"c":"2B3","g":"180 Days (b)","x":4.04,"y":8.6},{"c":"2B3","g":"180 Days (b)","x":4.06,"y":8.0},{"c":"2B3","g":"180 Days (b)","x":4.08,"y":6.5},{"c":"2B3","g":"180 Days (b)","x":4.1,"y":5.2},{"c":"2B3","g":"180 Days (b)","x":4.13,"y":3.9},{"c":"2B3","g":"180 Days (b)","x":4.17,"y":2.9},{"c":"2B3","g":"180 Days (b)","x":4.22,"y":2.2},{"c":"2B3","g":"180 Days (b)","x":4.28,"y":1.8},{"c":"2B3","g":"180 Days (b)","x":4.35,"y":1.6},{"c":"2B3","g":"180 Days (b)","x":4.42,"y":1.5},{"c":"2B3","g":"180 Days (b)","x":4.5,"y":1.45},{"c":"2B3","g":"180 Days (b)","x":4.6,"y":1.3},{"c":"2B3","g":"180 Days (b)","x":4.68,"y":1.35},{"c":"2B3","g":"180 Days (b)","x":4.8,"y":1.38},{"c":"2B3","g":"180 Days (b)","x":5.0,"y":1.4},{"c":"2B3","g":"180 Days (b)","x":5.2,"y":1.42},{"c":"2B3","g":"180 Days (b)","x":5.4,"y":1.4},{"c":"2B3","g":"180 Days (b)","x":5.6,"y":1.42},{"c":"2B3","g":"180 Days (b)","x":5.8,"y":1.38},{"c":"2B3","g":"180 Days (b)","x":6.0,"y":1.4},{"c":"2B3","g":"180 Days (b)","x":6.2,"y":1.37},{"c":"2B3","g":"180 Days (b)","x":6.4,"y":1.38},{"c":"2B3","g":"180 Days (b)","x":6.6,"y":1.35},{"c":"2B3","g":"180 Days (b)","x":6.8,"y":1.34},{"c":"2B3","g":"180 Days (b)","x":7.0,"y":1.33},
      {"c":"3B1","g":"180 Days (b)","x":8.0,"y":0},{"c":"3B1","g":"180 Days (b)","x":8.02,"y":5},{"c":"3B1","g":"180 Days (b)","x":8.04,"y":9.5},{"c":"3B1","g":"180 Days (b)","x":8.05,"y":10.4},{"c":"3B1","g":"180 Days (b)","x":8.07,"y":10.0},{"c":"3B1","g":"180 Days (b)","x":8.09,"y":8.8},{"c":"3B1","g":"180 Days (b)","x":8.12,"y":7.2},{"c":"3B1","g":"180 Days (b)","x":8.15,"y":5.8},{"c":"3B1","g":"180 Days (b)","x":8.19,"y":4.6},{"c":"3B1","g":"180 Days (b)","x":8.24,"y":3.6},{"c":"3B1","g":"180 Days (b)","x":8.3,"y":3.0},{"c":"3B1","g":"180 Days (b)","x":8.37,"y":2.6},{"c":"3B1","g":"180 Days (b)","x":8.45,"y":2.3},{"c":"3B1","g":"180 Days (b)","x":8.52,"y":2.15},{"c":"3B1","g":"180 Days (b)","x":8.6,"y":2.12},{"c":"3B1","g":"180 Days (b)","x":8.75,"y":2.1},{"c":"3B1","g":"180 Days (b)","x":9.0,"y":2.12},{"c":"3B1","g":"180 Days (b)","x":9.2,"y":2.15},{"c":"3B1","g":"180 Days (b)","x":9.4,"y":2.18},{"c":"3B1","g":"180 Days (b)","x":9.6,"y":2.2},{"c":"3B1","g":"180 Days (b)","x":9.8,"y":2.18},{"c":"3B1","g":"180 Days (b)","x":10.0,"y":2.17},{"c":"3B1","g":"180 Days (b)","x":10.3,"y":2.15},{"c":"3B1","g":"180 Days (b)","x":10.6,"y":2.12},{"c":"3B1","g":"180 Days (b)","x":11.0,"y":2.1},
      {"c":"3B2","g":"180 Days (b)","x":8.0,"y":0},{"c":"3B2","g":"180 Days (b)","x":8.02,"y":5},{"c":"3B2","g":"180 Days (b)","x":8.04,"y":9.0},{"c":"3B2","g":"180 Days (b)","x":8.055,"y":9.6},{"c":"3B2","g":"180 Days (b)","x":8.07,"y":9.2},{"c":"3B2","g":"180 Days (b)","x":8.09,"y":8.0},{"c":"3B2","g":"180 Days (b)","x":8.12,"y":6.6},{"c":"3B2","g":"180 Days (b)","x":8.15,"y":5.3},{"c":"3B2","g":"180 Days (b)","x":8.19,"y":4.2},{"c":"3B2","g":"180 Days (b)","x":8.24,"y":3.3},{"c":"3B2","g":"180 Days (b)","x":8.3,"y":2.7},{"c":"3B2","g":"180 Days (b)","x":8.37,"y":2.35},{"c":"3B2","g":"180 Days (b)","x":8.45,"y":2.1},{"c":"3B2","g":"180 Days (b)","x":8.55,"y":2.0},{"c":"3B2","g":"180 Days (b)","x":8.7,"y":1.98},{"c":"3B2","g":"180 Days (b)","x":8.9,"y":1.97},{"c":"3B2","g":"180 Days (b)","x":9.2,"y":1.98},{"c":"3B2","g":"180 Days (b)","x":9.5,"y":1.98},{"c":"3B2","g":"180 Days (b)","x":9.8,"y":1.95},{"c":"3B2","g":"180 Days (b)","x":10.1,"y":1.92},{"c":"3B2","g":"180 Days (b)","x":10.4,"y":1.88},{"c":"3B2","g":"180 Days (b)","x":10.7,"y":1.85},{"c":"3B2","g":"180 Days (b)","x":11.0,"y":1.83},
      {"c":"4B1","g":"180 Days (b)","x":12.0,"y":0},{"c":"4B1","g":"180 Days (b)","x":12.02,"y":6},{"c":"4B1","g":"180 Days (b)","x":12.035,"y":9.5},{"c":"4B1","g":"180 Days (b)","x":12.045,"y":10.55},{"c":"4B1","g":"180 Days (b)","x":12.055,"y":9.8},{"c":"4B1","g":"180 Days (b)","x":12.07,"y":8.6},{"c":"4B1","g":"180 Days (b)","x":12.09,"y":7.2},{"c":"4B1","g":"180 Days (b)","x":12.12,"y":5.6},{"c":"4B1","g":"180 Days (b)","x":12.16,"y":4.3},{"c":"4B1","g":"180 Days (b)","x":12.2,"y":3.4},{"c":"4B1","g":"180 Days (b)","x":12.25,"y":2.7},{"c":"4B1","g":"180 Days (b)","x":12.3,"y":2.25},{"c":"4B1","g":"180 Days (b)","x":12.38,"y":1.95},{"c":"4B1","g":"180 Days (b)","x":12.45,"y":1.8},{"c":"4B1","g":"180 Days (b)","x":12.55,"y":1.7},{"c":"4B1","g":"180 Days (b)","x":12.7,"y":1.6},{"c":"4B1","g":"180 Days (b)","x":12.85,"y":1.56},{"c":"4B1","g":"180 Days (b)","x":13.0,"y":1.6},{"c":"4B1","g":"180 Days (b)","x":13.2,"y":1.63},{"c":"4B1","g":"180 Days (b)","x":13.5,"y":1.65},{"c":"4B1","g":"180 Days (b)","x":13.8,"y":1.66},{"c":"4B1","g":"180 Days (b)","x":14.0,"y":1.64},{"c":"4B1","g":"180 Days (b)","x":14.3,"y":1.62},{"c":"4B1","g":"180 Days (b)","x":14.5,"y":1.58},{"c":"4B1","g":"180 Days (b)","x":14.57,"y":1.45},{"c":"4B1","g":"180 Days (b)","x":14.65,"y":1.5},{"c":"4B1","g":"180 Days (b)","x":14.8,"y":1.48},{"c":"4B1","g":"180 Days (b)","x":14.88,"y":1.35},{"c":"4B1","g":"180 Days (b)","x":14.95,"y":1.38},{"c":"4B1","g":"180 Days (b)","x":15.0,"y":1.35},
      {"c":"4B2","g":"180 Days (b)","x":12.0,"y":0},{"c":"4B2","g":"180 Days (b)","x":12.02,"y":5},{"c":"4B2","g":"180 Days (b)","x":12.04,"y":9.0},{"c":"4B2","g":"180 Days (b)","x":12.05,"y":9.5},{"c":"4B2","g":"180 Days (b)","x":12.065,"y":9.0},{"c":"4B2","g":"180 Days (b)","x":12.08,"y":7.8},{"c":"4B2","g":"180 Days (b)","x":12.1,"y":6.5},{"c":"4B2","g":"180 Days (b)","x":12.13,"y":5.0},{"c":"4B2","g":"180 Days (b)","x":12.17,"y":3.8},{"c":"4B2","g":"180 Days (b)","x":12.22,"y":2.9},{"c":"4B2","g":"180 Days (b)","x":12.28,"y":2.3},{"c":"4B2","g":"180 Days (b)","x":12.35,"y":1.9},{"c":"4B2","g":"180 Days (b)","x":12.42,"y":1.65},{"c":"4B2","g":"180 Days (b)","x":12.5,"y":1.45},{"c":"4B2","g":"180 Days (b)","x":12.6,"y":1.35},{"c":"4B2","g":"180 Days (b)","x":12.7,"y":1.28},{"c":"4B2","g":"180 Days (b)","x":12.85,"y":1.25},{"c":"4B2","g":"180 Days (b)","x":13.0,"y":1.3},{"c":"4B2","g":"180 Days (b)","x":13.2,"y":1.32},{"c":"4B2","g":"180 Days (b)","x":13.4,"y":1.35},{"c":"4B2","g":"180 Days (b)","x":13.5,"y":1.32},{"c":"4B2","g":"180 Days (b)","x":13.6,"y":1.38},{"c":"4B2","g":"180 Days (b)","x":13.8,"y":1.4},{"c":"4B2","g":"180 Days (b)","x":14.0,"y":1.42},{"c":"4B2","g":"180 Days (b)","x":14.2,"y":1.45},{"c":"4B2","g":"180 Days (b)","x":14.4,"y":1.45},{"c":"4B2","g":"180 Days (b)","x":14.45,"y":1.33},{"c":"4B2","g":"180 Days (b)","x":14.6,"y":1.4},{"c":"4B2","g":"180 Days (b)","x":14.8,"y":1.45},{"c":"4B2","g":"180 Days (b)","x":14.9,"y":1.4},{"c":"4B2","g":"180 Days (b)","x":15.0,"y":1.38},
      {"c":"4B3","g":"180 Days (b)","x":12.0,"y":0},{"c":"4B3","g":"180 Days (b)","x":12.02,"y":5},{"c":"4B3","g":"180 Days (b)","x":12.04,"y":9.0},{"c":"4B3","g":"180 Days (b)","x":12.06,"y":8.4},{"c":"4B3","g":"180 Days (b)","x":12.08,"y":7.0},{"c":"4B3","g":"180 Days (b)","x":12.1,"y":5.8},{"c":"4B3","g":"180 Days (b)","x":12.13,"y":4.4},{"c":"4B3","g":"180 Days (b)","x":12.17,"y":3.2},{"c":"4B3","g":"180 Days (b)","x":12.22,"y":2.3},{"c":"4B3","g":"180 Days (b)","x":12.28,"y":1.7},{"c":"4B3","g":"180 Days (b)","x":12.35,"y":1.4},{"c":"4B3","g":"180 Days (b)","x":12.42,"y":1.25},{"c":"4B3","g":"180 Days (b)","x":12.5,"y":1.1},{"c":"4B3","g":"180 Days (b)","x":12.6,"y":1.02},{"c":"4B3","g":"180 Days (b)","x":12.7,"y":0.98},{"c":"4B3","g":"180 Days (b)","x":12.85,"y":1.0},{"c":"4B3","g":"180 Days (b)","x":13.0,"y":0.98},{"c":"4B3","g":"180 Days (b)","x":13.2,"y":1.02},{"c":"4B3","g":"180 Days (b)","x":13.4,"y":1.0},{"c":"4B3","g":"180 Days (b)","x":13.6,"y":1.0},{"c":"4B3","g":"180 Days (b)","x":13.8,"y":1.02},{"c":"4B3","g":"180 Days (b)","x":14.0,"y":1.0},{"c":"4B3","g":"180 Days (b)","x":14.2,"y":0.98},{"c":"4B3","g":"180 Days (b)","x":14.4,"y":0.95},{"c":"4B3","g":"180 Days (b)","x":14.6,"y":0.95},{"c":"4B3","g":"180 Days (b)","x":14.8,"y":0.9},{"c":"4B3","g":"180 Days (b)","x":15.0,"y":0.85},
      {"c":"1R1","g":"360 Days","x":0,"y":0.1},{"c":"1R1","g":"360 Days","x":0.03,"y":6},{"c":"1R1","g":"360 Days","x":0.05,"y":9.5},{"c":"1R1","g":"360 Days","x":0.065,"y":9.95},{"c":"1R1","g":"360 Days","x":0.08,"y":9.6},{"c":"1R1","g":"360 Days","x":0.1,"y":8.6},{"c":"1R1","g":"360 Days","x":0.13,"y":7.2},{"c":"1R1","g":"360 Days","x":0.17,"y":5.8},{"c":"1R1","g":"360 Days","x":0.22,"y":4.6},{"c":"1R1","g":"360 Days","x":0.27,"y":4.0},{"c":"1R1","g":"360 Days","x":0.32,"y":3.6},{"c":"1R1","g":"360 Days","x":0.38,"y":3.3},{"c":"1R1","g":"360 Days","x":0.45,"y":3.05},{"c":"1R1","g":"360 Days","x":0.5,"y":2.85},{"c":"1R1","g":"360 Days","x":0.55,"y":2.65},{"c":"1R1","g":"360 Days","x":0.6,"y":2.5},{"c":"1R1","g":"360 Days","x":0.7,"y":2.35},{"c":"1R1","g":"360 Days","x":0.78,"y":2.25},{"c":"1R1","g":"360 Days","x":0.79,"y":1.65},{"c":"1R1","g":"360 Days","x":0.85,"y":1.7},{"c":"1R1","g":"360 Days","x":1.0,"y":1.75},{"c":"1R1","g":"360 Days","x":1.2,"y":1.72},{"c":"1R1","g":"360 Days","x":1.4,"y":1.68},{"c":"1R1","g":"360 Days","x":1.6,"y":1.65},{"c":"1R1","g":"360 Days","x":1.8,"y":1.62},{"c":"1R1","g":"360 Days","x":2.0,"y":1.6},{"c":"1R1","g":"360 Days","x":2.2,"y":1.55},{"c":"1R1","g":"360 Days","x":2.4,"y":1.5},{"c":"1R1","g":"360 Days","x":2.55,"y":1.45},{"c":"1R1","g":"360 Days","x":2.8,"y":1.43},{"c":"1R1","g":"360 Days","x":3.0,"y":1.4},
      {"c":"1R2","g":"360 Days","x":0,"y":0.1},{"c":"1R2","g":"360 Days","x":0.02,"y":5},{"c":"1R2","g":"360 Days","x":0.04,"y":8.8},{"c":"1R2","g":"360 Days","x":0.05,"y":9.23},{"c":"1R2","g":"360 Days","x":0.065,"y":9.0},{"c":"1R2","g":"360 Days","x":0.08,"y":8.2},{"c":"1R2","g":"360 Days","x":0.1,"y":7.0},{"c":"1R2","g":"360 Days","x":0.13,"y":5.8},{"c":"1R2","g":"360 Days","x":0.16,"y":4.6},{"c":"1R2","g":"360 Days","x":0.2,"y":3.8},{"c":"1R2","g":"360 Days","x":0.25,"y":3.2},{"c":"1R2","g":"360 Days","x":0.3,"y":2.9},{"c":"1R2","g":"360 Days","x":0.35,"y":2.6},{"c":"1R2","g":"360 Days","x":0.42,"y":2.4},{"c":"1R2","g":"360 Days","x":0.5,"y":2.2},{"c":"1R2","g":"360 Days","x":0.57,"y":2.05},{"c":"1R2","g":"360 Days","x":0.65,"y":2.02},{"c":"1R2","g":"360 Days","x":0.78,"y":2.03},{"c":"1R2","g":"360 Days","x":0.85,"y":2.12},{"c":"1R2","g":"360 Days","x":0.95,"y":2.2},{"c":"1R2","g":"360 Days","x":1.05,"y":2.22},{"c":"1R2","g":"360 Days","x":1.17,"y":2.28},{"c":"1R2","g":"360 Days","x":1.18,"y":2.16},{"c":"1R2","g":"360 Days","x":1.25,"y":2.25},{"c":"1R2","g":"360 Days","x":1.4,"y":2.35},{"c":"1R2","g":"360 Days","x":1.5,"y":2.4},{"c":"1R2","g":"360 Days","x":1.6,"y":2.52},{"c":"1R2","g":"360 Days","x":1.75,"y":2.55},{"c":"1R2","g":"360 Days","x":2.0,"y":2.53},{"c":"1R2","g":"360 Days","x":2.5,"y":2.5},{"c":"1R2","g":"360 Days","x":3.0,"y":2.47},
      {"c":"2R1","g":"360 Days","x":4.0,"y":0},{"c":"2R1","g":"360 Days","x":4.02,"y":5},{"c":"2R1","g":"360 Days","x":4.035,"y":8.8},{"c":"2R1","g":"360 Days","x":4.045,"y":9.3},{"c":"2R1","g":"360 Days","x":4.065,"y":8.9},{"c":"2R1","g":"360 Days","x":4.1,"y":7.5},{"c":"2R1","g":"360 Days","x":4.13,"y":6.2},{"c":"2R1","g":"360 Days","x":4.16,"y":5.2},{"c":"2R1","g":"360 Days","x":4.2,"y":4.5},{"c":"2R1","g":"360 Days","x":4.24,"y":4.15},{"c":"2R1","g":"360 Days","x":4.3,"y":3.85},{"c":"2R1","g":"360 Days","x":4.35,"y":3.6},{"c":"2R1","g":"360 Days","x":4.42,"y":3.2},{"c":"2R1","g":"360 Days","x":4.445,"y":2.4},{"c":"2R1","g":"360 Days","x":4.5,"y":2.45},{"c":"2R1","g":"360 Days","x":4.6,"y":2.55},{"c":"2R1","g":"360 Days","x":4.75,"y":2.6},{"c":"2R1","g":"360 Days","x":4.82,"y":2.58},{"c":"2R1","g":"360 Days","x":4.85,"y":2.42},{"c":"2R1","g":"360 Days","x":4.9,"y":2.55},{"c":"2R1","g":"360 Days","x":5.0,"y":2.65},{"c":"2R1","g":"360 Days","x":5.3,"y":2.64},{"c":"2R1","g":"360 Days","x":5.7,"y":2.62},{"c":"2R1","g":"360 Days","x":6.2,"y":2.6},{"c":"2R1","g":"360 Days","x":6.6,"y":2.57},{"c":"2R1","g":"360 Days","x":7.0,"y":2.55},
      {"c":"2R2","g":"360 Days","x":4.0,"y":0},{"c":"2R2","g":"360 Days","x":4.02,"y":5},{"c":"2R2","g":"360 Days","x":4.04,"y":9.0},{"c":"2R2","g":"360 Days","x":4.06,"y":8.5},{"c":"2R2","g":"360 Days","x":4.08,"y":7.0},{"c":"2R2","g":"360 Days","x":4.1,"y":5.8},{"c":"2R2","g":"360 Days","x":4.13,"y":4.5},{"c":"2R2","g":"360 Days","x":4.17,"y":3.4},{"c":"2R2","g":"360 Days","x":4.22,"y":2.6},{"c":"2R2","g":"360 Days","x":4.28,"y":2.15},{"c":"2R2","g":"360 Days","x":4.35,"y":1.9},{"c":"2R2","g":"360 Days","x":4.45,"y":1.78},{"c":"2R2","g":"360 Days","x":4.55,"y":1.8},{"c":"2R2","g":"360 Days","x":4.7,"y":1.85},{"c":"2R2","g":"360 Days","x":4.9,"y":1.9},{"c":"2R2","g":"360 Days","x":5.1,"y":1.95},{"c":"2R2","g":"360 Days","x":5.3,"y":1.97},{"c":"2R2","g":"360 Days","x":5.6,"y":1.95},{"c":"2R2","g":"360 Days","x":6.0,"y":1.95},{"c":"2R2","g":"360 Days","x":6.5,"y":1.94},{"c":"2R2","g":"360 Days","x":7.0,"y":1.94},
      {"c":"2R3","g":"360 Days","x":4.0,"y":0},{"c":"2R3","g":"360 Days","x":4.02,"y":5},{"c":"2R3","g":"360 Days","x":4.04,"y":8.5},{"c":"2R3","g":"360 Days","x":4.06,"y":8.0},{"c":"2R3","g":"360 Days","x":4.08,"y":6.6},{"c":"2R3","g":"360 Days","x":4.1,"y":5.3},{"c":"2R3","g":"360 Days","x":4.13,"y":4.0},{"c":"2R3","g":"360 Days","x":4.17,"y":3.0},{"c":"2R3","g":"360 Days","x":4.22,"y":2.3},{"c":"2R3","g":"360 Days","x":4.28,"y":1.8},{"c":"2R3","g":"360 Days","x":4.35,"y":1.5},{"c":"2R3","g":"360 Days","x":4.45,"y":1.3},{"c":"2R3","g":"360 Days","x":4.55,"y":1.15},{"c":"2R3","g":"360 Days","x":4.7,"y":1.12},{"c":"2R3","g":"360 Days","x":4.9,"y":1.1},{"c":"2R3","g":"360 Days","x":5.1,"y":1.1},{"c":"2R3","g":"360 Days","x":5.3,"y":1.12},{"c":"2R3","g":"360 Days","x":5.6,"y":1.08},{"c":"2R3","g":"360 Days","x":5.8,"y":1.05},{"c":"2R3","g":"360 Days","x":6.0,"y":1.02},{"c":"2R3","g":"360 Days","x":6.2,"y":1.0},{"c":"2R3","g":"360 Days","x":6.4,"y":0.98},{"c":"2R3","g":"360 Days","x":6.6,"y":0.95},{"c":"2R3","g":"360 Days","x":7.0,"y":0.94},
      {"c":"3R1","g":"360 Days","x":8.0,"y":0},{"c":"3R1","g":"360 Days","x":8.02,"y":5},{"c":"3R1","g":"360 Days","x":8.04,"y":9.6},{"c":"3R1","g":"360 Days","x":8.055,"y":10.35},{"c":"3R1","g":"360 Days","x":8.07,"y":10.1},{"c":"3R1","g":"360 Days","x":8.09,"y":9.0},{"c":"3R1","g":"360 Days","x":8.12,"y":7.4},{"c":"3R1","g":"360 Days","x":8.15,"y":6.0},{"c":"3R1","g":"360 Days","x":8.19,"y":4.8},{"c":"3R1","g":"360 Days","x":8.24,"y":3.8},{"c":"3R1","g":"360 Days","x":8.3,"y":3.1},{"c":"3R1","g":"360 Days","x":8.37,"y":2.6},{"c":"3R1","g":"360 Days","x":8.45,"y":2.25},{"c":"3R1","g":"360 Days","x":8.55,"y":2.05},{"c":"3R1","g":"360 Days","x":8.65,"y":2.08},{"c":"3R1","g":"360 Days","x":8.8,"y":2.1},{"c":"3R1","g":"360 Days","x":9.0,"y":2.05},{"c":"3R1","g":"360 Days","x":9.15,"y":2.1},{"c":"3R1","g":"360 Days","x":9.3,"y":2.12},{"c":"3R1","g":"360 Days","x":9.45,"y":2.0},{"c":"3R1","g":"360 Days","x":9.55,"y":2.08},{"c":"3R1","g":"360 Days","x":9.7,"y":2.15},{"c":"3R1","g":"360 Days","x":9.9,"y":2.18},{"c":"3R1","g":"360 Days","x":10.2,"y":2.18},{"c":"3R1","g":"360 Days","x":10.6,"y":2.18},{"c":"3R1","g":"360 Days","x":11.0,"y":2.18},
      {"c":"3R2","g":"360 Days","x":8.0,"y":0},{"c":"3R2","g":"360 Days","x":8.02,"y":5},{"c":"3R2","g":"360 Days","x":8.04,"y":9.5},{"c":"3R2","g":"360 Days","x":8.06,"y":10.2},{"c":"3R2","g":"360 Days","x":8.075,"y":9.9},{"c":"3R2","g":"360 Days","x":8.1,"y":8.6},{"c":"3R2","g":"360 Days","x":8.13,"y":7.0},{"c":"3R2","g":"360 Days","x":8.16,"y":5.6},{"c":"3R2","g":"360 Days","x":8.2,"y":4.5},{"c":"3R2","g":"360 Days","x":8.25,"y":3.5},{"c":"3R2","g":"360 Days","x":8.32,"y":2.8},{"c":"3R2","g":"360 Days","x":8.38,"y":2.4},{"c":"3R2","g":"360 Days","x":8.43,"y":2.2},{"c":"3R2","g":"360 Days","x":8.47,"y":2.1},{"c":"3R2","g":"360 Days","x":8.6,"y":2.08},{"c":"3R2","g":"360 Days","x":8.8,"y":2.1},{"c":"3R2","g":"360 Days","x":8.97,"y":2.1},{"c":"3R2","g":"360 Days","x":8.98,"y":1.85},{"c":"3R2","g":"360 Days","x":9.1,"y":1.88},{"c":"3R2","g":"360 Days","x":9.25,"y":1.92},{"c":"3R2","g":"360 Days","x":9.4,"y":1.95},{"c":"3R2","g":"360 Days","x":9.55,"y":1.98},{"c":"3R2","g":"360 Days","x":9.65,"y":1.92},{"c":"3R2","g":"360 Days","x":9.8,"y":1.95},{"c":"3R2","g":"360 Days","x":9.95,"y":1.88},{"c":"3R2","g":"360 Days","x":10.05,"y":1.75},{"c":"3R2","g":"360 Days","x":10.15,"y":1.85},{"c":"3R2","g":"360 Days","x":10.3,"y":1.78},{"c":"3R2","g":"360 Days","x":10.4,"y":1.65},{"c":"3R2","g":"360 Days","x":10.55,"y":1.7},{"c":"3R2","g":"360 Days","x":10.7,"y":1.7},{"c":"3R2","g":"360 Days","x":10.8,"y":1.65},{"c":"3R2","g":"360 Days","x":11.0,"y":1.68},
      {"c":"3R3","g":"360 Days","x":8.0,"y":0},{"c":"3R3","g":"360 Days","x":8.02,"y":5},{"c":"3R3","g":"360 Days","x":8.04,"y":8.8},{"c":"3R3","g":"360 Days","x":8.055,"y":9.3},{"c":"3R3","g":"360 Days","x":8.07,"y":9.0},{"c":"3R3","g":"360 Days","x":8.09,"y":7.9},{"c":"3R3","g":"360 Days","x":8.12,"y":6.4},{"c":"3R3","g":"360 Days","x":8.15,"y":5.1},{"c":"3R3","g":"360 Days","x":8.19,"y":4.0},{"c":"3R3","g":"360 Days","x":8.24,"y":3.1},{"c":"3R3","g":"360 Days","x":8.3,"y":2.5},{"c":"3R3","g":"360 Days","x":8.35,"y":2.2},{"c":"3R3","g":"360 Days","x":8.42,"y":1.98},{"c":"3R3","g":"360 Days","x":8.5,"y":2.0},{"c":"3R3","g":"360 Days","x":8.6,"y":2.05},{"c":"3R3","g":"360 Days","x":8.75,"y":2.08},{"c":"3R3","g":"360 Days","x":8.9,"y":2.06},{"c":"3R3","g":"360 Days","x":9.1,"y":2.05},{"c":"3R3","g":"360 Days","x":9.3,"y":2.02},{"c":"3R3","g":"360 Days","x":9.5,"y":2.05},{"c":"3R3","g":"360 Days","x":9.7,"y":2.08},{"c":"3R3","g":"360 Days","x":9.9,"y":2.1},{"c":"3R3","g":"360 Days","x":10.1,"y":2.12},{"c":"3R3","g":"360 Days","x":10.4,"y":2.08},{"c":"3R3","g":"360 Days","x":10.7,"y":2.06},{"c":"3R3","g":"360 Days","x":11.0,"y":2.05},
      {"c":"4R1","g":"360 Days","x":12.0,"y":0},{"c":"4R1","g":"360 Days","x":12.02,"y":5},{"c":"4R1","g":"360 Days","x":12.04,"y":9.0},{"c":"4R1","g":"360 Days","x":12.055,"y":9.65},{"c":"4R1","g":"360 Days","x":12.07,"y":9.3},{"c":"4R1","g":"360 Days","x":12.09,"y":8.2},{"c":"4R1","g":"360 Days","x":12.12,"y":6.6},{"c":"4R1","g":"360 Days","x":12.15,"y":5.3},{"c":"4R1","g":"360 Days","x":12.19,"y":4.3},{"c":"4R1","g":"360 Days","x":12.24,"y":3.5},{"c":"4R1","g":"360 Days","x":12.3,"y":3.0},{"c":"4R1","g":"360 Days","x":12.38,"y":2.6},{"c":"4R1","g":"360 Days","x":12.45,"y":2.35},{"c":"4R1","g":"360 Days","x":12.55,"y":2.15},{"c":"4R1","g":"360 Days","x":12.61,"y":2.05},{"c":"4R1","g":"360 Days","x":12.62,"y":1.82},{"c":"4R1","g":"360 Days","x":12.7,"y":1.88},{"c":"4R1","g":"360 Days","x":12.85,"y":1.92},{"c":"4R1","g":"360 Days","x":12.97,"y":1.98},{"c":"4R1","g":"360 Days","x":13.0,"y":1.85},{"c":"4R1","g":"360 Days","x":13.1,"y":1.92},{"c":"4R1","g":"360 Days","x":13.25,"y":1.98},{"c":"4R1","g":"360 Days","x":13.28,"y":1.85},{"c":"4R1","g":"360 Days","x":13.4,"y":1.95},{"c":"4R1","g":"360 Days","x":13.56,"y":2.02},{"c":"4R1","g":"360 Days","x":13.59,"y":1.88},{"c":"4R1","g":"360 Days","x":13.7,"y":1.98},{"c":"4R1","g":"360 Days","x":13.87,"y":2.05},{"c":"4R1","g":"360 Days","x":13.9,"y":1.9},{"c":"4R1","g":"360 Days","x":14.0,"y":1.98},{"c":"4R1","g":"360 Days","x":14.17,"y":2.05},{"c":"4R1","g":"360 Days","x":14.2,"y":1.92},{"c":"4R1","g":"360 Days","x":14.3,"y":2.02},{"c":"4R1","g":"360 Days","x":14.36,"y":2.08},{"c":"4R1","g":"360 Days","x":14.7,"y":2.08},{"c":"4R1","g":"360 Days","x":15.0,"y":2.08},
      {"c":"4R2","g":"360 Days","x":12.0,"y":0},{"c":"4R2","g":"360 Days","x":12.02,"y":5},{"c":"4R2","g":"360 Days","x":12.04,"y":8.7},{"c":"4R2","g":"360 Days","x":12.055,"y":9.2},{"c":"4R2","g":"360 Days","x":12.07,"y":8.8},{"c":"4R2","g":"360 Days","x":12.09,"y":7.6},{"c":"4R2","g":"360 Days","x":12.12,"y":6.0},{"c":"4R2","g":"360 Days","x":12.15,"y":4.7},{"c":"4R2","g":"360 Days","x":12.19,"y":3.6},{"c":"4R2","g":"360 Days","x":12.24,"y":2.8},{"c":"4R2","g":"360 Days","x":12.3,"y":2.2},{"c":"4R2","g":"360 Days","x":12.38,"y":1.8},{"c":"4R2","g":"360 Days","x":12.45,"y":1.55},{"c":"4R2","g":"360 Days","x":12.55,"y":1.35},{"c":"4R2","g":"360 Days","x":12.65,"y":1.22},{"c":"4R2","g":"360 Days","x":12.8,"y":1.15},{"c":"4R2","g":"360 Days","x":12.92,"y":1.12},{"c":"4R2","g":"360 Days","x":13.2,"y":1.12},{"c":"4R2","g":"360 Days","x":13.6,"y":1.12},{"c":"4R2","g":"360 Days","x":14.0,"y":1.12},{"c":"4R2","g":"360 Days","x":14.5,"y":1.12},{"c":"4R2","g":"360 Days","x":15.0,"y":1.12}
    ]
  },
  "layer": [
    {
      "data": {"name": "curves"},
      "mark": {"type": "line", "strokeWidth": 1.3, "interpolate": "linear"},
      "encoding": {
        "x": {"field": "x", "type": "quantitative", "scale": {"domain": [0, 16], "nice": false, "zero": false},
          "axis": {"title": "CMOD (mm)", "values": [0, 2, 4, 6, 8, 10, 12, 14, 16], "format": "d", "grid": true, "gridColor": "#d9d9d9", "gridWidth": 1, "domainColor": "#bfbfbf", "domainWidth": 1.5, "ticks": false, "tickSize": 0, "labelFont": "Lato", "labelFontSize": 20, "labelColor": "#595959", "labelPadding": 21, "labelFlush": false, "titleFont": "Lato", "titleFontSize": 22, "titleFontWeight": "bold", "titleColor": "#595959", "titleX": 703, "titleY": 63, "titleBaseline": "middle"}},
        "y": {"field": "y", "type": "quantitative", "scale": {"domain": [0, 12], "nice": false},
          "axis": {"title": "Flexural Strength (MPa)", "values": [0, 2, 4, 6, 8, 10, 12], "format": "d", "grid": true, "gridColor": "#d9d9d9", "gridWidth": 1, "domain": false, "ticks": false, "tickSize": 0, "labelFont": "Lato", "labelFontSize": 20, "labelColor": "#595959", "labelPadding": 20, "labelFlush": false, "titleFont": "Lato", "titleFontSize": 22, "titleFontWeight": "bold", "titleColor": "#595959", "titleX": -60, "titleY": 340, "titleBaseline": "middle", "titleAngle": -90}},
        "color": {"field": "g", "type": "nominal",
          "scale": {"domain": ["28 Days", "180 Days", "360 Days", "180 Days (b)"], "range": ["#000000", "#1e96dc", "#ff0000", "#4472c4"]},
          "legend": {"values": ["28 Days", "180 Days", "360 Days"], "title": null, "orient": "none", "legendX": 1397, "legendY": 194, "direction": "vertical", "padding": 0,
            "symbolType": "M 1.6 3.8 L 11.8 3.8 L 10.8 5 L 0.6 5 Z", "symbolSize": 100, "symbolStrokeWidth": 0,
            "labelFont": "Lato", "labelFontSize": 26, "labelColor": "#000000", "labelOffset": 4, "rowPadding": 76,
            "encode": {"symbols": {"update": {"fill": {"scale": "color", "field": "value"}, "stroke": {"value": "transparent"}, "opacity": {"value": 1}}}}}},
        "detail": {"field": "c", "type": "nominal"}
      }
    },
    {
      "data": {"name": "labels"},
      "mark": {"type": "text", "align": "left", "baseline": "middle", "font": "Lato", "fontSize": 27, "fontWeight": "bold", "color": "#000000"},
      "encoding": {
        "x": {"field": "x", "type": "quantitative"},
        "y": {"field": "y", "type": "quantitative"},
        "text": {"field": "label"}
      }
    }
  ]
}
